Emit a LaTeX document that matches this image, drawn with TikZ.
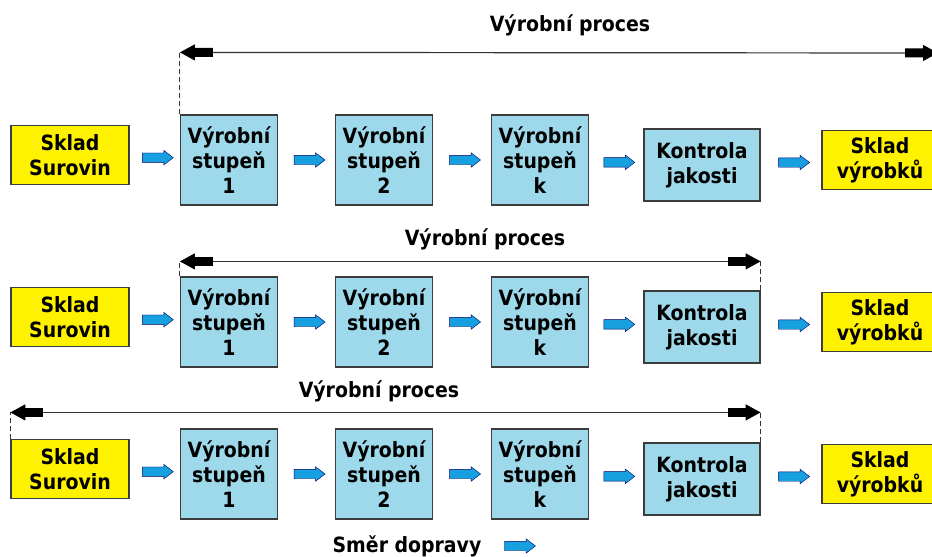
\documentclass[tikz,border=0pt]{standalone}
\usepackage{fontspec}
\setmainfont{DejaVu Sans Condensed}
\usetikzlibrary{arrows.meta, calc, positioning, shapes.arrows}
\definecolor{boxblue}{RGB}{157,217,234}
\definecolor{flowblue}{RGB}{22,160,224}
\definecolor{edgegray}{RGB}{60,60,60}

\begin{document}
\begin{tikzpicture}[x=1pt, y=-1pt,% styles used in image code
       font = \fontsize{21}{25}\selectfont\bfseries,
stage/.style = {draw=edgegray, line width=1.2pt, fill=boxblue,
                align=center, inner sep=0pt,
                minimum width=97pt, minimum height=90pt},
check/.style = {stage, minimum width=116pt, minimum height=72pt},
store/.style = {draw=edgegray, line width=1.2pt, fill=yellow,
                align=center, inner sep=0pt,
                minimum width=118pt, minimum height=59pt},
 flow/.style = {single arrow, draw=black!60!blue, fill=flowblue, thin,
                minimum height=31pt, inner sep=4.5pt,
                single arrow head extend=2.5pt, single arrow tip angle=75,
                node contents={}},
 span/.style = {draw=black!80, line width=1.2pt,
                {Triangle[length=15pt,width=16pt,black]Rectangle[length=18pt,width=9pt,black]}-%
                {Rectangle[length=18pt,width=9pt,black]Triangle[length=15pt,width=16pt,black]}},
guide/.style = {draw=black!80, line width=1pt, dash pattern=on 5pt off 3pt}
                    ]
    \clip (0,0) rectangle (932,557);
    % three rows of the same line
    \foreach \r/\y in {1/160, 2/322, 3/474}
    {
    \node[store] (ss\r)  at (70,\y-5)  {Sklad\\Surovin};
    \node[stage] (vs1\r) at (229,\y)   {Výrobní\\stupeň\\1};
    \node[stage] (vs2\r) at (384,\y)   {Výrobní\\stupeň\\2};
    \node[stage] (vsk\r) at (540,\y)   {Výrobní\\stupeň\\k};
    \node[check] (kj\r)  at (702,\y+5) {Kontrola\\jakosti};
    \node[store, minimum width=116pt] (sv\r) at (880,\y) {Sklad\\výrobků};

    \path (ss\r)  -- (vs1\r) node[midway, flow];
    \path (vs1\r) -- (vs2\r) node[midway, flow];
    \path (vs2\r) -- (vsk\r) node[midway, flow];
    \path (vsk\r) -- (kj\r)  node[midway, flow];
    \path (kj\r)  -- (sv\r)  node[midway, flow];
    }

    % extent of the process
    \draw[guide] (vs11.north west) -- ++(0,-62) coordinate (a1);
    \coordinate (b1) at (938,53);
    \draw[span] (a1) -- (b1);
    \node (t1) at (570,25) {Výrobní proces};

    \draw[guide] (vs12.north west) -- ++(0,-15) coordinate (a2);
    \draw[guide] (kj2.north east)  -- ++(0,-29) coordinate (b2);
    \draw[span] (a2) -- (b2);
    \node (t2) at (485,239) {Výrobní proces};

    \draw[guide] (ss3.north west) -- ++(0,-26.5) coordinate (a3);
    \draw[guide] (kj3.north east) -- ++(0,-30)   coordinate (b3);
    \draw[span] (a3) -- (b3);
    \node (t3) at (379,391) {Výrobní proces};

    % direction
    \node (smer) at (407,546) {Směr dopravy};
    \path (smer.east) -- ++(64,0) coordinate (smer end)
          node[midway, flow];
\end{tikzpicture}
\end{document}
